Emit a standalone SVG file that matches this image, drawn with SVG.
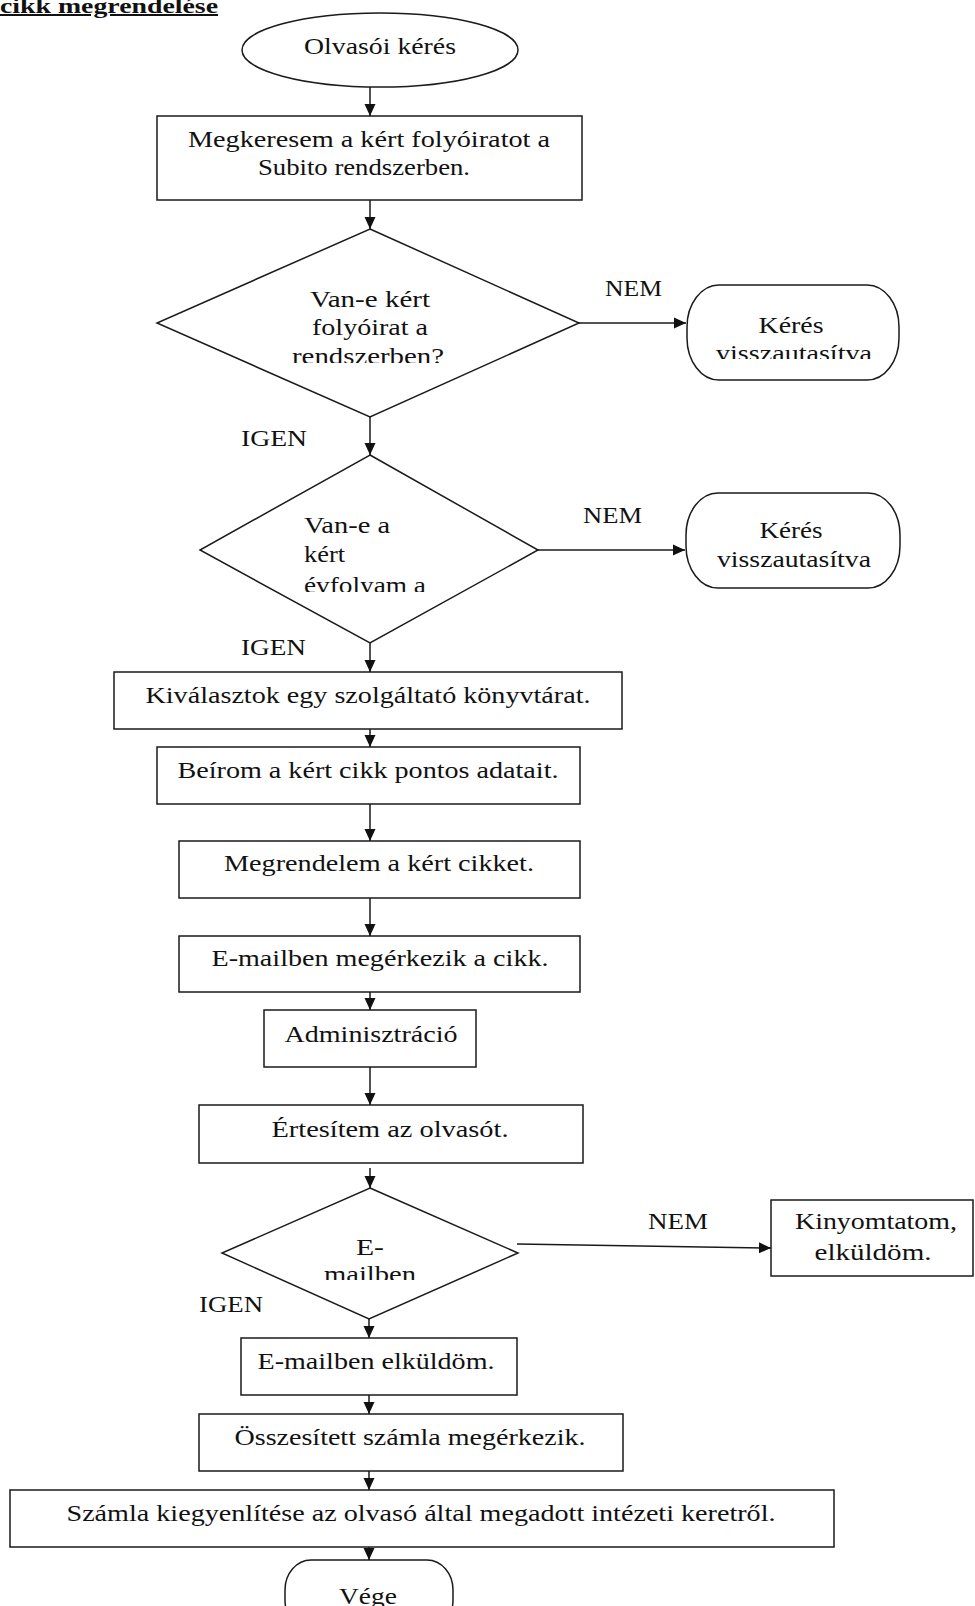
<svg xmlns="http://www.w3.org/2000/svg" width="975" height="1606" viewBox="0 0 975 1606">
  <style>
    .shape { fill: #ffffff; stroke: #1a1a1a; stroke-width: 1.5; }
    .wire { fill: none; stroke: #1a1a1a; stroke-width: 1.5; }
    text { font-family: "Liberation Serif", "Times New Roman", Times, serif; font-size: 24px; fill: #111111; }
    .c { text-anchor: middle; }
    .title { font-weight: bold; font-size: 20px; text-decoration: underline; }
  </style>
  <defs>
    <marker id="arrow" markerUnits="userSpaceOnUse" markerWidth="12" markerHeight="14" viewBox="0 0 12 14" refX="12" refY="7" orient="auto">
      <path d="M0,1.5 L12,7 L0,12.5 Z" fill="#111111"/>
    </marker>
    <clipPath id="clipD1"><rect x="150" y="229" width="440" height="134"/></clipPath>
    <clipPath id="clipK1"><rect x="687" y="285" width="212" height="74"/></clipPath>
    <clipPath id="clipD2"><rect x="200" y="455" width="340" height="137"/></clipPath>
    <clipPath id="clipD3"><rect x="222" y="1188" width="296" height="92"/></clipPath>
  </defs>

  <rect width="975" height="1606" fill="#ffffff"/>

  <text class="title" x="0" y="13" textLength="218" lengthAdjust="spacingAndGlyphs">cikk megrendelése</text>

  <g id="start">
    <ellipse class="shape" cx="380" cy="50" rx="138" ry="37"/>
    <text class="c" x="380" y="54" textLength="152" lengthAdjust="spacingAndGlyphs">Olvasói kérés</text>
  </g>

  <g id="search">
    <rect class="shape" x="157" y="116" width="425" height="84"/>
    <text class="c" x="369" y="147" textLength="362" lengthAdjust="spacingAndGlyphs">Megkeresem a kért folyóiratot a</text>
    <text class="c" x="364" y="175" textLength="212" lengthAdjust="spacingAndGlyphs">Subito rendszerben.</text>
  </g>

  <g id="decision-journal">
    <polygon class="shape" points="370,229 579,323 370,417 157,323"/>
    <g clip-path="url(#clipD1)">
      <text class="c" x="370" y="307" textLength="120" lengthAdjust="spacingAndGlyphs">Van-e kért</text>
      <text class="c" x="370" y="335" textLength="116" lengthAdjust="spacingAndGlyphs">folyóirat a</text>
      <text class="c" x="368" y="364" textLength="152" lengthAdjust="spacingAndGlyphs">rendszerben?</text>
    </g>
  </g>

  <g id="rejected-1">
    <rect class="shape" x="687" y="285" width="212" height="95" rx="32" ry="42"/>
    <g clip-path="url(#clipK1)">
      <text class="c" x="791" y="333" textLength="65" lengthAdjust="spacingAndGlyphs">Kérés</text>
      <text class="c" x="794" y="361" textLength="156" lengthAdjust="spacingAndGlyphs">visszautasítva</text>
    </g>
  </g>

  <g id="decision-volume">
    <polygon class="shape" points="370,455 538,550 370,643 200,550"/>
    <g clip-path="url(#clipD2)">
      <text x="304" y="533" textLength="86" lengthAdjust="spacingAndGlyphs">Van-e a</text>
      <text x="304" y="562" textLength="41" lengthAdjust="spacingAndGlyphs">kért</text>
      <text x="304" y="593" textLength="122" lengthAdjust="spacingAndGlyphs">évfolyam a</text>
    </g>
  </g>

  <g id="rejected-2">
    <rect class="shape" x="686" y="493" width="214" height="95" rx="32" ry="42"/>
    <text class="c" x="791" y="538" textLength="63" lengthAdjust="spacingAndGlyphs">Kérés</text>
    <text class="c" x="794" y="567" textLength="154" lengthAdjust="spacingAndGlyphs">visszautasítva</text>
  </g>

  <g id="select-library">
    <rect class="shape" x="114" y="672" width="508" height="57"/>
    <text class="c" x="368" y="703" textLength="445" lengthAdjust="spacingAndGlyphs">Kiválasztok egy szolgáltató könyvtárat.</text>
  </g>

  <g id="enter-data">
    <rect class="shape" x="157" y="747" width="423" height="57"/>
    <text class="c" x="368" y="778" textLength="381" lengthAdjust="spacingAndGlyphs">Beírom a kért cikk pontos adatait.</text>
  </g>

  <g id="order">
    <rect class="shape" x="179" y="841" width="401" height="57"/>
    <text class="c" x="379" y="871" textLength="310" lengthAdjust="spacingAndGlyphs">Megrendelem a kért cikket.</text>
  </g>

  <g id="arrives">
    <rect class="shape" x="179" y="936" width="401" height="56"/>
    <text class="c" x="380" y="966" textLength="337" lengthAdjust="spacingAndGlyphs">E-mailben megérkezik a cikk.</text>
  </g>

  <g id="admin">
    <rect class="shape" x="264" y="1010" width="212" height="57"/>
    <text class="c" x="371" y="1042" textLength="173" lengthAdjust="spacingAndGlyphs">Adminisztráció</text>
  </g>

  <g id="notify">
    <rect class="shape" x="199" y="1105" width="384" height="58"/>
    <text class="c" x="390" y="1137" textLength="237" lengthAdjust="spacingAndGlyphs">Értesítem az olvasót.</text>
  </g>

  <g id="decision-email">
    <polygon class="shape" points="370,1188 518,1253 369,1319 222,1253"/>
    <g clip-path="url(#clipD3)">
      <text class="c" x="370" y="1255" textLength="28" lengthAdjust="spacingAndGlyphs">E-</text>
      <text class="c" x="370" y="1282" textLength="92" lengthAdjust="spacingAndGlyphs">mailben</text>
    </g>
  </g>

  <g id="print-send">
    <rect class="shape" x="771" y="1200" width="202" height="76"/>
    <text class="c" x="876" y="1229" textLength="162" lengthAdjust="spacingAndGlyphs">Kinyomtatom,</text>
    <text class="c" x="873" y="1260" textLength="117" lengthAdjust="spacingAndGlyphs">elküldöm.</text>
  </g>

  <g id="email-send">
    <rect class="shape" x="241" y="1338" width="276" height="57"/>
    <text class="c" x="376" y="1369" textLength="237" lengthAdjust="spacingAndGlyphs">E-mailben elküldöm.</text>
  </g>

  <g id="invoice">
    <rect class="shape" x="199" y="1414" width="424" height="57"/>
    <text class="c" x="410" y="1445" textLength="351" lengthAdjust="spacingAndGlyphs">Összesített számla megérkezik.</text>
  </g>

  <g id="payment">
    <rect class="shape" x="10" y="1490" width="824" height="57"/>
    <text class="c" x="421" y="1521" textLength="709" lengthAdjust="spacingAndGlyphs">Számla kiegyenlítése az olvasó által megadott intézeti keretről.</text>
  </g>

  <g id="end">
    <rect class="shape" x="285" y="1560" width="168" height="70" rx="26" ry="30"/>
    <text class="c" x="368" y="1604" textLength="58" lengthAdjust="spacingAndGlyphs">Vége</text>
  </g>

  <g id="connectors">
    <line class="wire" x1="370" y1="87" x2="370" y2="116" marker-end="url(#arrow)"/>
    <line class="wire" x1="370" y1="200" x2="370" y2="229" marker-end="url(#arrow)"/>
    <line class="wire" x1="579" y1="323" x2="686" y2="323" marker-end="url(#arrow)"/>
    <line class="wire" x1="370" y1="417" x2="370" y2="455" marker-end="url(#arrow)"/>
    <line class="wire" x1="538" y1="550" x2="685" y2="550" marker-end="url(#arrow)"/>
    <line class="wire" x1="370" y1="643" x2="370" y2="672" marker-end="url(#arrow)"/>
    <line class="wire" x1="370" y1="729" x2="370" y2="747" marker-end="url(#arrow)"/>
    <line class="wire" x1="370" y1="804" x2="370" y2="841" marker-end="url(#arrow)"/>
    <line class="wire" x1="370" y1="898" x2="370" y2="936" marker-end="url(#arrow)"/>
    <line class="wire" x1="370" y1="992" x2="370" y2="1010" marker-end="url(#arrow)"/>
    <line class="wire" x1="370" y1="1067" x2="370" y2="1105" marker-end="url(#arrow)"/>
    <line class="wire" x1="370" y1="1168" x2="370" y2="1188" marker-end="url(#arrow)"/>
    <line class="wire" x1="517" y1="1244" x2="771" y2="1248" marker-end="url(#arrow)"/>
    <line class="wire" x1="369" y1="1319" x2="369" y2="1338" marker-end="url(#arrow)"/>
    <line class="wire" x1="369" y1="1395" x2="369" y2="1414" marker-end="url(#arrow)"/>
    <line class="wire" x1="369" y1="1471" x2="369" y2="1490" marker-end="url(#arrow)"/>
    <line class="wire" x1="369" y1="1547" x2="369" y2="1560" marker-end="url(#arrow)"/>
    <text x="605" y="296" textLength="57" lengthAdjust="spacingAndGlyphs">NEM</text>
    <text x="241" y="446" textLength="66" lengthAdjust="spacingAndGlyphs">IGEN</text>
    <text x="583" y="523" textLength="59" lengthAdjust="spacingAndGlyphs">NEM</text>
    <text x="241" y="655" textLength="65" lengthAdjust="spacingAndGlyphs">IGEN</text>
    <text x="648" y="1229" textLength="60" lengthAdjust="spacingAndGlyphs">NEM</text>
    <text x="199" y="1312" textLength="64" lengthAdjust="spacingAndGlyphs">IGEN</text>
  </g>
</svg>
